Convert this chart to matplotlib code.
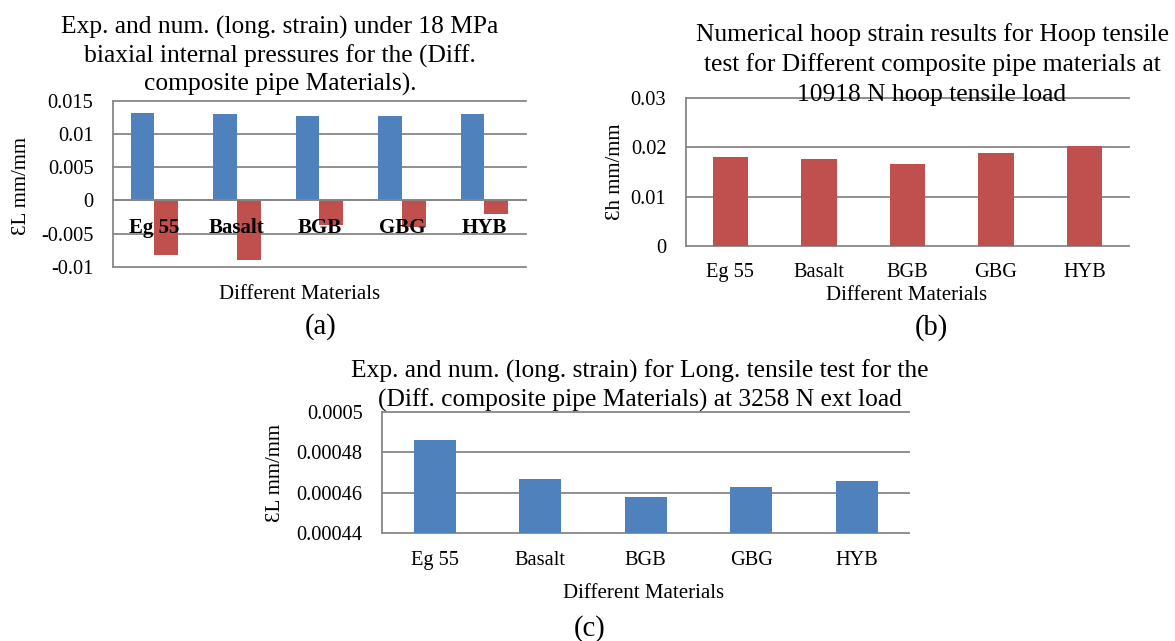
import matplotlib
matplotlib.use("Agg")
import matplotlib.pyplot as plt
import numpy as np

plt.rcParams['font.family'] = ['Liberation Serif', 'DejaVu Serif']

# ---------------- data ----------------
materials = ["Eg 55", "Basalt", "BGB", "GBG", "HYB"]

# (a) biaxial internal pressure 18 MPa
a_exp = [0.01325, 0.0130, 0.0127, 0.0128, 0.0130]
a_num = [-0.0083, -0.0090, -0.0037, -0.0040, -0.0021]
a_yticks = [-0.01, -0.005, 0, 0.005, 0.01, 0.015]
a_yticklabels = ["-0.01", "-0.005", "0", "0.005", "0.01", "0.015"]

# (b) hoop tensile test
b_hoop = [0.01805, 0.01758, 0.01663, 0.01893, 0.0203]
b_yticks = [0, 0.01, 0.02, 0.03]
b_yticklabels = ["0", "0.01", "0.02", "0.03"]

# (c) longitudinal tensile test
c_long = [0.000486, 0.000467, 0.000458, 0.000463, 0.000466]
c_yticks = [0.00044, 0.00046, 0.00048, 0.0005]
c_yticklabels = ["0.00044", "0.00046", "0.00048", "0.0005"]

title_a = ["Exp. and num. (long. strain) under 18 MPa",
           "biaxial internal pressures for the (Diff.",
           "composite pipe Materials)."]
title_b = ["Numerical hoop strain results for Hoop tensile",
           "test for Different composite pipe materials at",
           "10918 N hoop tensile load"]
title_c = ["Exp. and num. (long. strain) for Long. tensile test for the",
           "(Diff. composite pipe Materials) at 3258 N ext load"]

# ---------------- style ----------------
BLUE = "#4F81BD"
RED = "#C0504D"
GRID = "#878787"
W, H = 1175, 641
TICK_FS = 14.7
TITLE_FS = 18.4
LAB_FS = 15
PANEL_FS = 20.6

fig = plt.figure(figsize=(W / 100, H / 100), dpi=100)


def fx(x):
    return x / W


def fy(y):
    return 1 - y / H


def rect(l, r, t, b):
    return [l / W, 1 - b / H, (r - l) / W, (b - t) / H]


def style_axes(ax, yticks, yticklabels, ylim):
    ax.set_ylim(*ylim)
    ax.set_xlim(-0.5, len(materials) - 0.5)
    ax.set_yticks(yticks)
    ax.set_yticklabels(yticklabels)
    ax.set_axisbelow(True)
    ax.grid(axis='y', color=GRID, linewidth=1.3)
    ax.grid(axis='x', visible=False)
    for ln in ax.get_ygridlines():
        ln.set_clip_on(False)
    for s in ['top', 'right', 'bottom']:
        ax.spines[s].set_visible(False)
    ax.spines['left'].set_color(GRID)
    ax.spines['left'].set_linewidth(1.3)
    ax.tick_params(axis='y', length=0, pad=14.2, labelsize=TICK_FS)
    ax.tick_params(axis='x', length=0, pad=12.5, labelsize=TICK_FS)
    ax.patch.set_alpha(0)


x = np.arange(len(materials))

# ---------- (a) ----------
axa = fig.add_axes(rect(113.2, 525.7, 101, 266.7))
wa = 1 / 3.5
axa.bar(x - wa / 2, a_exp, width=wa, color=BLUE, zorder=2)
axa.bar(x + wa / 2, a_num, width=wa, color=RED, zorder=2)
style_axes(axa, a_yticks, a_yticklabels, (-0.01, 0.015))
axa.spines['bottom'].set_visible(True)
axa.spines['bottom'].set_position(('data', 0))
axa.spines['bottom'].set_color(GRID)
axa.spines['bottom'].set_linewidth(1.3)
axa.set_xticks(x)
axa.set_xticklabels(materials, fontweight='bold', fontsize=15)
axa.xaxis.set_zorder(5)  # category labels drawn over the bars

# ---------- (b) ----------
axb = fig.add_axes(rect(686, 1128.7, 98.3, 245.7))
axb.bar(x, b_hoop, width=0.4, color=RED, zorder=2)
style_axes(axb, b_yticks, b_yticklabels, (0, 0.03))
axb.set_xticks(x)
axb.set_xticklabels(materials)

# ---------- (c) ----------
axc = fig.add_axes(rect(382.3, 909.3, 411.7, 533.3))
axc.bar(x, c_long, width=0.4, color=BLUE, zorder=2)
style_axes(axc, c_yticks, c_yticklabels, (0.00044, 0.0005))
axc.set_xticks(x)
axc.set_xticklabels(materials)

# ---------- titles ----------
for lines, cx, base, step in [(title_a, 280, 33.5, 28.6),
                              (title_b, 932, 41.5, 29.5),
                              (title_c, 640, 378, 29)]:
    for i, s in enumerate(lines):
        fig.text(fx(cx), fy(base + i * step), s, ha='center', va='baseline',
                 fontsize=TITLE_FS, zorder=5)

# ---------- axis labels ----------
for cx, base in [(300, 299.3), (907, 300), (644, 598.3)]:
    fig.text(fx(cx), fy(base), "Different Materials", ha='center',
             va='baseline', fontsize=LAB_FS)

for s, cx, cy in [("ƐL mm/mm", 22, 186), ("Ɛh mm/mm", 615, 172),
                  ("ƐL mm/mm", 276, 472.5)]:
    fig.text(fx(cx), fy(cy), s, ha='center', va='center', rotation=90,
             fontsize=LAB_FS)

for s, cx, base in [("(a)", 321, 334), ("(b)", 931.7, 335), ("(c)", 590, 636)]:
    fig.text(fx(cx), fy(base), s, ha='center', va='baseline',
             fontsize=PANEL_FS)

fig.savefig("out.png", dpi=100)
